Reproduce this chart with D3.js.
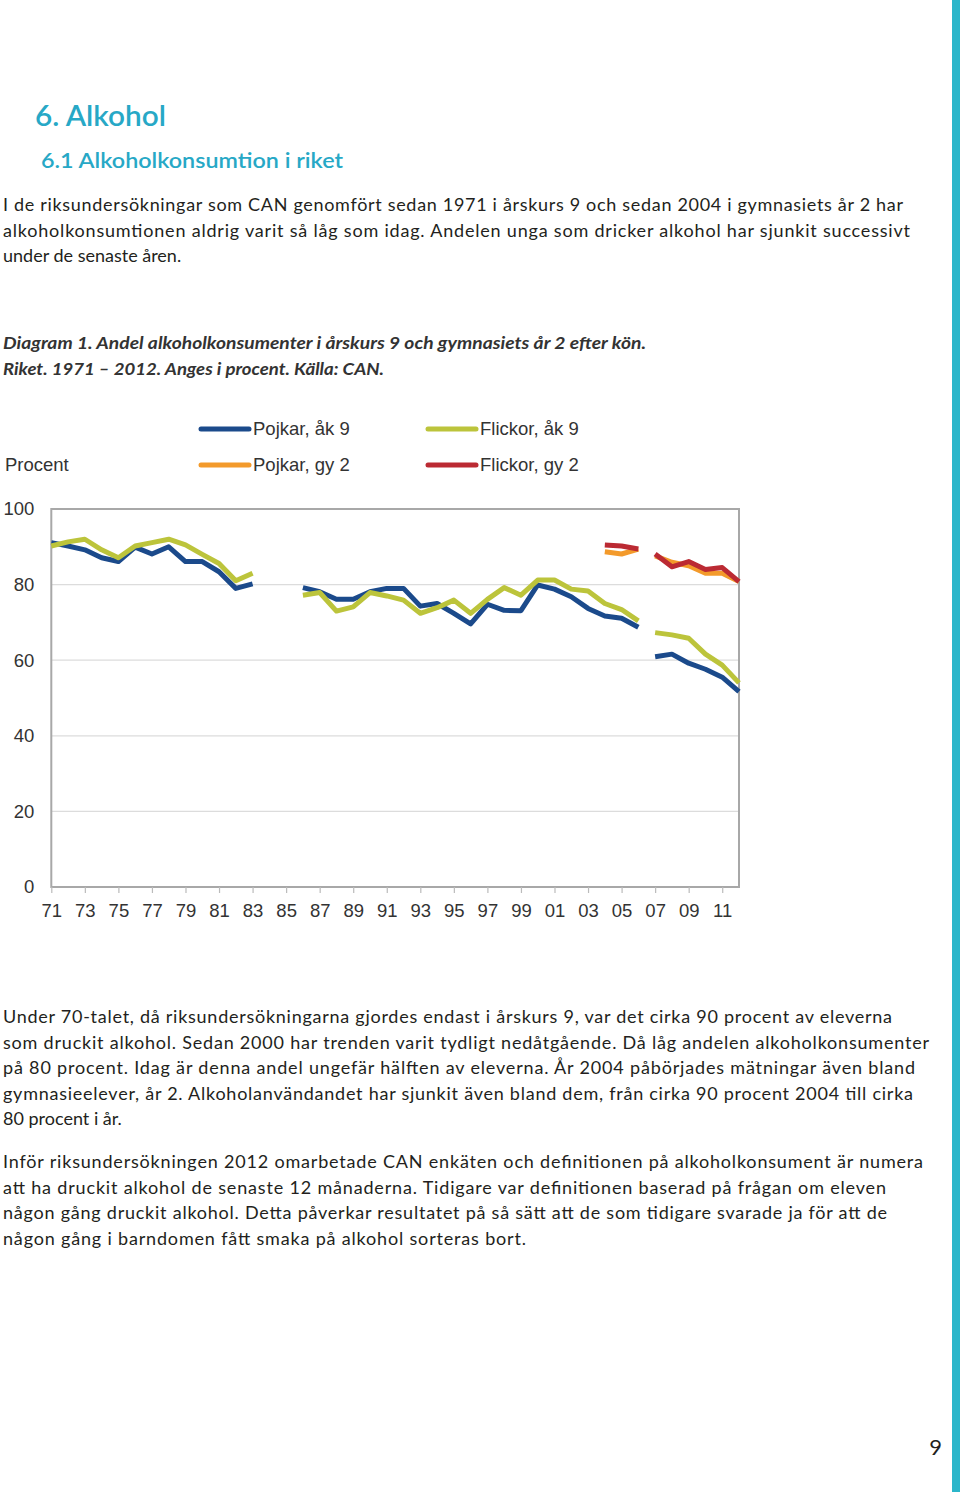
<!DOCTYPE html>
<html>
<head>
<meta charset="utf-8">
<script src="https://cdn.jsdelivr.net/npm/d3@7"></script>
<style>
  html, body { margin: 0; padding: 0; background: #fff; }
  svg { display: block; }
</style>
</head>
<body>
<svg id="page" width="960" height="1492"></svg>
<script>
// ---------------- DATA ----------------
const years = [1971,1972,1973,1974,1975,1976,1977,1978,1979,1980,1981,1982,1983,1984,1985,1986,1987,1988,1989,1990,
  1991,1992,1993,1994,1995,1996,1997,1998,1999,2000,2001,2002,2003,2004,2005,2006,2007,2008,2009,2010,2011,2012];

// Survey periods (line is broken between them)
const periods = [[1971, 1983], [1986, 2006], [2007, 2012]];

const pojkarAk9 = [91.1,90.2,89.2,87.1,86.1,89.9,88.1,90.0,86.1,86.1,83.4,79.0,80.2,null,null,
  79.2,78.1,76.1,76.1,78.1,79.0,79.0,74.3,75.0,72.4,69.6,74.8,73.2,73.1,79.9,78.8,76.8,73.7,71.7,71.1,68.7,
  60.9,61.6,59.2,57.6,55.5,51.7];
const flickorAk9 = [90.2,91.3,92.0,89.2,87.1,90.2,91.1,92.0,90.5,88.0,85.6,81.0,83.0,null,null,
  77.2,77.9,73.0,74.1,77.9,77.0,75.9,72.4,73.9,75.9,72.4,76.1,79.2,77.2,81.2,81.2,78.8,78.3,75.0,73.4,70.4,
  67.3,66.7,65.8,61.6,58.7,54.0];
const pojkarGy2 = [null,null,null,null,null,null,null,null,null,null,null,null,null,null,null,
  null,null,null,null,null,null,null,null,null,null,null,null,null,null,null,null,null,null,88.7,88.1,89.4,
  87.6,85.9,85.0,83.0,83.0,80.8];
const flickorGy2 = [null,null,null,null,null,null,null,null,null,null,null,null,null,null,null,
  null,null,null,null,null,null,null,null,null,null,null,null,null,null,null,null,null,null,90.5,90.2,89.4,
  88.1,84.7,86.1,84.0,84.5,80.8];

const seriesNames = ["Pojkar, åk 9", "Flickor, åk 9", "Pojkar, gy 2", "Flickor, gy 2"];
const seriesColors = ["#1b4a8b", "#bcc43b", "#f39a2b", "#bb2a33"];
const seriesValues = [pojkarAk9, flickorAk9, pojkarGy2, flickorGy2];

const yTicks = [0, 20, 40, 60, 80, 100];
const xTickYears = [1971,1973,1975,1977,1979,1981,1983,1985,1987,1989,1991,1993,1995,1997,1999,2001,2003,2005,2007,2009,2011];

// ---------------- TEXT ----------------
const heading1 = "6. Alkohol";
const heading2 = "6.1 Alkoholkonsumtion i riket";
const introLines = [
  "I de riksundersökningar som CAN genomfört sedan 1971 i årskurs 9 och sedan 2004 i gymnasiets år 2 har",
  "alkoholkonsumtionen aldrig varit så låg som idag. Andelen unga som dricker alkohol har sjunkit successivt",
  "under de senaste åren."
];
const captionLines = [
  "Diagram 1. Andel alkoholkonsumenter i årskurs 9 och gymnasiets år 2 efter kön.",
  "Riket. 1971 – 2012. Anges i procent. Källa: CAN."
];
const para2Lines = [
  "Under 70-talet, då riksundersökningarna gjordes endast i årskurs 9, var det cirka 90 procent av eleverna",
  "som druckit alkohol. Sedan 2000 har trenden varit tydligt nedåtgående. Då låg andelen alkoholkonsumenter",
  "på 80 procent. Idag är denna andel ungefär hälften av eleverna. År 2004 påbörjades mätningar även bland",
  "gymnasieelever, år 2. Alkoholanvändandet har sjunkit även bland dem, från cirka 90 procent 2004 till cirka",
  "80 procent i år."
];
const para3Lines = [
  "Inför riksundersökningen 2012 omarbetade CAN enkäten och definitionen på alkoholkonsument är numera",
  "att ha druckit alkohol de senaste 12 månaderna. Tidigare var definitionen baserad på frågan om eleven",
  "någon gång druckit alkohol. Detta påverkar resultatet på så sätt att de som tidigare svarade ja för att de",
  "någon gång i barndomen fått smaka på alkohol sorteras bort."
];

// ---------------- DRAW ----------------
const svg = d3.select("#page");
const bodyFont = "Lato, 'Open Sans', sans-serif";
const chartFont = "'Liberation Sans', Arial, sans-serif";
const teal = "#27a8c6";

// right page strip
svg.append("rect").attr("x", 952).attr("y", 0).attr("width", 8).attr("height", 1492).attr("fill", "#2bb6ca");

function fitText(sel, widths, mode) {
  sel.each(function(d, i) {
    const w = widths[i];
    if (w) d3.select(this).attr("textLength", w).attr("lengthAdjust", mode);
  });
}

svg.append("text").attr("x", 35).attr("y", 126).attr("font-family", bodyFont).attr("font-size", 29)
  .attr("font-weight", 600)
  .attr("fill", teal).attr("textLength", 131).attr("lengthAdjust", "spacingAndGlyphs").text(heading1);
svg.append("text").attr("x", 41).attr("y", 168).attr("font-family", bodyFont).attr("font-size", 21)
  .attr("font-weight", 600)
  .attr("fill", teal).attr("textLength", 302).attr("lengthAdjust", "spacingAndGlyphs").text(heading2);

function paragraph(lines, x, y0, lh, widths, opts = {}) {
  const t = svg.append("g").selectAll("text").data(lines).join("text")
    .attr("x", x).attr("y", (d, i) => y0 + i * lh)
    .attr("font-family", bodyFont).attr("font-size", opts.size || 18)
    .attr("font-weight", opts.weight || "normal").attr("font-style", opts.style || "normal")
    .attr("fill", opts.color || "#231f20").text(d => d);
  fitText(t, widths, opts.mode || "spacing");
}

paragraph(introLines, 3, 211, 25.5, [900, 907, null]);
paragraph(captionLines, 3, 349, 26, [643, 381], { weight: "bold", style: "italic", color: "#333", size: 17.6, mode: "spacingAndGlyphs" });
paragraph(para2Lines, 3, 1023, 25.5, [889, 926, 912, 910, null]);
paragraph(para3Lines, 3, 1168, 25.5, [920, 883, 884, 523]);

svg.append("text").attr("x", 942).attr("y", 1455).attr("text-anchor", "end").attr("font-family", bodyFont)
  .attr("font-size", 22).attr("fill", "#231f20").text("9");

// ---------------- CHART ----------------
const plot = { left: 51.3, right: 739, top: 509, bottom: 887 };
const x = d3.scaleLinear().domain([1971, 2012]).range([plot.left, plot.right]);
const y = d3.scaleLinear().domain([0, 100]).range([plot.bottom, plot.top]);

const chart = svg.append("g");

// gridlines
chart.append("g").selectAll("line").data(yTicks.filter(v => v > 0 && v < 100)).join("line")
  .attr("x1", plot.left).attr("x2", plot.right).attr("y1", d => y(d)).attr("y2", d => y(d))
  .attr("stroke", "#dcdcdc").attr("stroke-width", 1.2);

// plot frame
chart.append("rect").attr("x", plot.left).attr("y", plot.top)
  .attr("width", plot.right - plot.left).attr("height", plot.bottom - plot.top)
  .attr("fill", "none").attr("stroke", "#a8a8a8").attr("stroke-width", 2);

// y axis labels
const yAxis = d3.axisLeft(y).tickValues(yTicks).tickSize(0).tickPadding(17);
const yg = chart.append("g").attr("transform", `translate(${plot.left},0)`).call(yAxis);
yg.select(".domain").remove();
yg.selectAll("text").attr("font-family", chartFont).attr("font-size", 18.5).attr("fill", "#333");

// x axis
const xAxis = d3.axisBottom(x).tickValues(xTickYears).tickSize(6).tickPadding(6)
  .tickFormat(d => String(d % 100).padStart(2, "0"));
const xg = chart.append("g").attr("transform", `translate(0,${plot.bottom})`).call(xAxis);
xg.select(".domain").remove();
xg.selectAll("line").attr("stroke", "#bbb").attr("stroke-width", 1.2);
xg.selectAll("text").attr("font-family", chartFont).attr("font-size", 18.5).attr("fill", "#333")
  .attr("dy", "0.95em");

// series lines
const line = d3.line().x(d => x(d.year)).y(d => y(d.value));
seriesValues.forEach((vals, si) => {
  periods.forEach(([a, b]) => {
    const pts = years.map((yr, i) => ({ year: yr, value: vals[i] }))
      .filter(p => p.year >= a && p.year <= b && p.value != null);
    if (pts.length < 2) return;
    chart.append("path").datum(pts).attr("d", line)
      .attr("fill", "none").attr("stroke", seriesColors[si]).attr("stroke-width", 5)
      .attr("stroke-linejoin", "round").attr("stroke-linecap", "butt");
  });
});

// legend
const legendPos = [[201, 429], [428, 429], [201, 465], [428, 465]];
const lg = chart.append("g");
seriesNames.forEach((name, i) => {
  const [lx, ly] = legendPos[i];
  lg.append("line").attr("x1", lx).attr("x2", lx + 48).attr("y1", ly).attr("y2", ly)
    .attr("stroke", seriesColors[i]).attr("stroke-width", 5).attr("stroke-linecap", "round");
  lg.append("text").attr("x", lx + 52).attr("y", ly).attr("dy", "0.35em")
    .attr("font-family", chartFont).attr("font-size", 18.5).attr("fill", "#333").text(name);
});
lg.append("text").attr("x", 5).attr("y", 465).attr("dy", "0.35em")
  .attr("font-family", chartFont).attr("font-size", 18.5).attr("fill", "#333").text("Procent");
</script>
</body>
</html>
